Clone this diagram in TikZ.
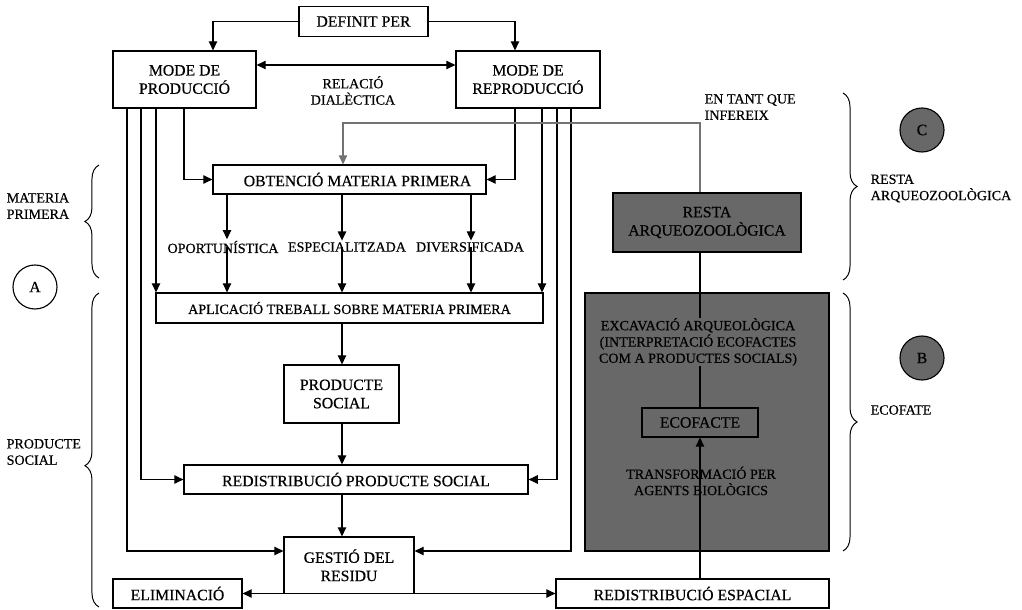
\documentclass[tikz,border=0pt]{standalone}
\usepackage{fontspec}
\setmainfont{Liberation Serif}[FakeBold=0.5]
\usetikzlibrary{arrows.meta,decorations.pathreplacing,calc}
\definecolor{boxgray}{RGB}{104,104,104}
\definecolor{linegray}{RGB}{115,115,115}
\begin{document}
\begin{tikzpicture}[x=0.025cm,y=-0.025cm,
  bigtxt/.style={font=\fontsize{11.2}{13}\selectfont},
  smalltxt/.style={font=\fontsize{10}{11.6}\selectfont},
  boxx/.style={draw, line width=0.8pt, inner sep=0pt, align=center, bigtxt},
  lbl/.style={inner sep=1pt, align=center, smalltxt},
  arr/.style={line width=0.8pt, -{Triangle[length=6.5pt,width=6pt]}},
  arrs/.style={line width=0.8pt, {Triangle[length=6.5pt,width=6pt]}-{Triangle[length=6.5pt,width=6pt]}},
  garr/.style={line width=0.8pt, draw=linegray, -{Triangle[length=6.5pt,width=6pt,fill=linegray]}},
  plainline/.style={line width=0.8pt},
  brc/.style={decorate, decoration={brace, amplitude=10pt}, line width=0.7pt},
  circ/.style={circle, draw, line width=0.8pt, minimum size=1.1cm, inner sep=0pt, bigtxt}]
\path[use as bounding box] (0,0) rectangle (1022,610);

% coordinates for connector columns
\coordinate (L1) at (127,0);
\coordinate (L2) at (141,0);
\coordinate (L3) at (156,0);
\coordinate (L4) at (184,0);
\coordinate (R1) at (515,0);
\coordinate (R2) at (542,0);
\coordinate (R3) at (557,0);
\coordinate (R4) at (571,0);
\coordinate (T1) at (213,0);
\coordinate (D) at (0,65);
\coordinate (GY) at (0,551);
\coordinate (V) at (700,0);
\coordinate (Gt) at (343,123);
\coordinate (A1) at (227,0);
\coordinate (A2) at (342,0);
\coordinate (A3) at (471,0);

% boxes
\node[boxx, minimum width=3.225cm, minimum height=0.75cm] (def) at (363.5,21.5) {DEFINIT PER};
\node[boxx, minimum width=3.575cm, minimum height=1.425cm] (mp) at (184.5,79.5) {MODE DE\\PRODUCCIÓ};
\node[boxx, minimum width=3.6cm, minimum height=1.425cm] (mr) at (528,79.5) {MODE DE\\REPRODUCCIÓ};
\node[lbl] (rel) at (353,90.5) {RELACIÓ\\DIALÈCTICA};
\node[boxx, minimum width=6.825cm, minimum height=0.725cm] (obt) at (349.5,179.5) {\hspace{0.4cm}OBTENCIÓ MATERIA PRIMERA};
\node[lbl] (op) at (223,247) {OPORTUNÍSTICA};
\node[lbl] (esp) at (347,247) {ESPECIALITZADA};
\node[lbl] (div) at (470,247) {DIVERSIFICADA};
\node[boxx, smalltxt, minimum width=9.675cm, minimum height=0.75cm] (apl) at (349.5,308) {APLICACIÓ TREBALL SOBRE MATERIA PRIMERA};
\node[boxx, minimum width=2.875cm, minimum height=1.45cm] (ps) at (341.5,394) {PRODUCTE\\SOCIAL};
\node[boxx, minimum width=8.6cm, minimum height=0.725cm] (rps) at (356,479.5) {REDISTRIBUCIÓ PRODUCTE SOCIAL};
\node[boxx, minimum width=3.25cm, minimum height=1.4125cm] (ges) at (349,565.25) {GESTIÓ DEL\\RESIDU};
\node[boxx, minimum width=3.225cm, minimum height=0.725cm] (eli) at (177.5,593.5) {ELIMINACIÓ};
\node[boxx, minimum width=6.825cm, minimum height=0.725cm] (res) at (692.5,593.5) {REDISTRIBUCIÓ ESPACIAL};
\node[boxx, fill=boxgray, minimum width=6.1cm, minimum height=6.45cm] (gb) at (707,422) {};
\node[boxx, fill=boxgray, minimum width=4.7cm, minimum height=1.475cm] (resta) at (707,222.5) {RESTA\\ARQUEOZOOLÒGICA};
\node[boxx, fill=boxgray, minimum width=2.9cm, minimum height=0.725cm] (eco) at (700,422.5) {ECOFACTE};

% side labels
\node[lbl, align=left, anchor=west] (mpl) at (5,206) {MATERIA\\PRIMERA};
\node[lbl, align=left, anchor=west] (psl) at (5,452) {PRODUCTE\\SOCIAL};
\node[lbl, align=left, anchor=west] (etq) at (703,107) {EN TANT QUE\\INFEREIX};
\node[lbl, align=left, anchor=west] (ral) at (869,188.5) {RESTA\\ARQUEOZOOLÒGICA};
\node[lbl, anchor=west] (ecl) at (869,410) {ECOFATE};

% circles
\node[circ, fill=white] (ca) at (35,287) {A};
\node[circ, fill=boxgray] (cb) at (922,358) {B};
\node[circ, fill=boxgray] (cc) at (922,130) {C};

% braces
\draw[brc] (99,278) -- (99,165);
\draw[brc, decoration={brace, amplitude=10pt, aspect=0.45}] (99,607) -- (99,293);
\draw[brc] (843,93) -- (843,280);
\draw[brc] (843,293) -- (843,551);

% connectors
\draw[arr] (def.west) -| (T1 |- mp.north);
\draw[arr] (def.east) -| (R1 |- mr.north);
\draw[arrs] (mp.east |- D) -- (mr.west |- D);
\draw[arr] (L4 |- mp.south) |- (obt.west);
\draw[arr] (L3 |- mp.south) -- (L3 |- apl.north);
\draw[arr] (L2 |- mp.south) |- (rps.west);
\draw[arr] (L1 |- mp.south) |- (ges.west |- GY);
\draw[arr] (R1 |- mr.south) |- (obt.east);
\draw[arr] (R2 |- mr.south) -- (R2 |- apl.north);
\draw[arr] (R3 |- mr.south) |- (rps.east);
\draw[arr] (R4 |- mr.south) |- (ges.east |- GY);
\draw[arr] (A1 |- obt.south) -- (A1 |- op.north);
\draw[arr] (A1 |- op.center) -- (A1 |- apl.north);
\draw[arr] (A2 |- obt.south) -- (A2 |- esp.north);
\draw[arr] (A2 |- esp.center) -- (A2 |- apl.north);
\draw[arr] (A3 |- obt.south) -- (A3 |- div.north);
\draw[arr] (A3 |- div.center) -- (A3 |- apl.north);
\draw[arr] (apl.south -| A2) -- (ps.north -| A2);
\draw[arr] (ps.south -| A2) -- (rps.north -| A2);
\draw[arr] (rps.south -| A2) -- (ges.north -| A2);
\draw[arrs] (eli.east) -- (res.west);
\draw[garr] (V |- resta.north) |- (Gt) -- (Gt |- obt.north);
\draw[plainline] (V |- resta.south) -- (V |- eco.north);
\draw[arr] (V |- res.north) -- (V |- eco.south);

% texts inside the grey box
\node[lbl, fill=boxgray, inner sep=0pt] (exc) at (698,342) {EXCAVACIÓ ARQUEOLÒGICA\\(INTERPRETACIÓ ECOFACTES\\COM A PRODUCTES SOCIALS)};
\node[lbl] (tra) at (701,481) {TRANSFORMACIÓ PER\\AGENTS BIOLÒGICS};
\end{tikzpicture}
\end{document}
